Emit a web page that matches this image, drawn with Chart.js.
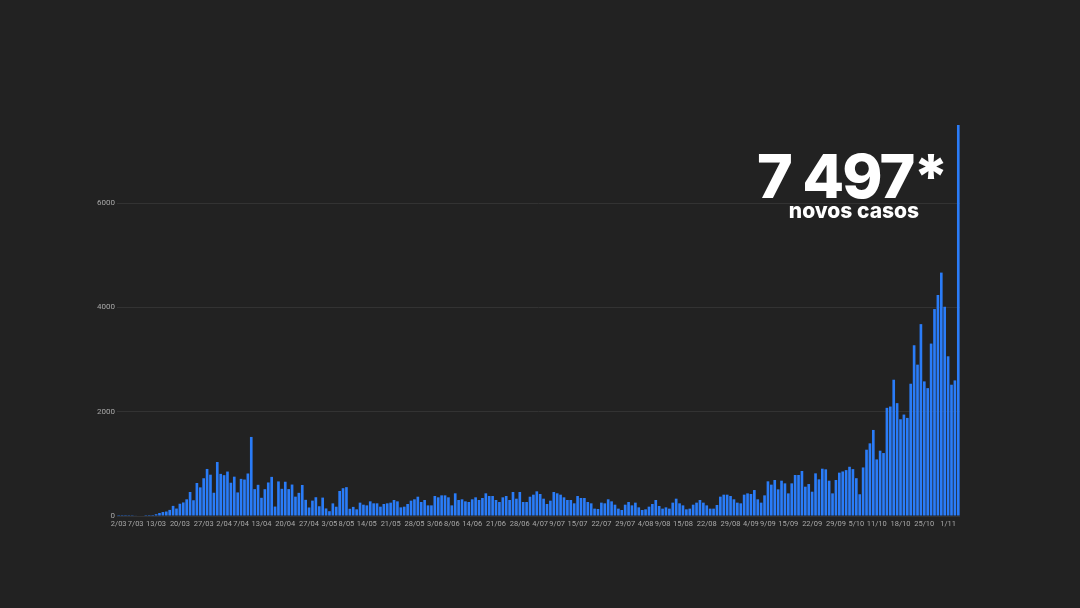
<!DOCTYPE html>
<html>
<head>
<meta charset="utf-8">
<script src="https://cdn.jsdelivr.net/npm/chart.js@4.4.0/dist/chart.umd.min.js"></script>
<style>
  html, body { margin: 0; padding: 0; background: #222222; }
  #wrap { position: relative; width: 1080px; height: 608px; overflow: hidden; }
  .big { position: absolute; left: 652px; width: 400px; text-align: center; color: #fff;
         font-family: Inter, "Open Sans", sans-serif; font-weight: 800; }
  #total { top: 146px; font-size: 61px; line-height: 61px; letter-spacing: -2px; }
  #sub { top: 200px; left: 654px; font-size: 21px; line-height: 21px; }
</style>
</head>
<body>
<div id="wrap">
  <canvas id="casos" width="1080" height="608"></canvas>
  <div class="big" id="total">7 497*</div>
  <div class="big" id="sub">novos casos</div>
</div>
<script>
// novos casos por dia, de 2/03 a 4/11
const startDate = [2020, 2, 2];

const marApr = [2, 2, 2, 3, 4, 8, 9, 9, 2, 18, 19, 34, 57, 76, 86, 117, 194, 143, 235, 260,
  320, 460, 302, 633, 549, 724, 902, 792, 446, 1035, 808, 783, 852, 638];
const abrMai = [754, 452, 712, 699, 815, 1516, 515, 598, 349, 514, 643, 750, 181, 663, 521, 657,
  516, 603, 371, 444, 595, 310, 163, 295, 360, 187, 353, 145, 92, 242, 178, 480, 533, 553, 138, 175];
const maiJun = [128, 256, 217, 204, 281, 243, 243, 179, 230, 243, 256, 307, 281, 166, 179, 230,
  294, 320, 370, 268, 307, 204, 204, 383, 358, 396, 396, 358, 204, 435, 307, 320, 281, 268, 320];
const junJul = [358, 307, 345, 435, 383, 383, 307, 268, 358, 383, 307, 460, 332, 460, 268, 268,
  370, 409, 473, 422, 332, 230, 294, 460, 435, 409, 358, 307, 307, 243, 383, 345, 345, 268, 243, 141];
const julAgo = [134, 256, 243, 320, 281, 217, 141, 115, 217, 268, 204, 256, 166, 115, 128, 179,
  230, 307, 192, 141, 166, 141, 256, 332, 243, 204, 128, 141, 217, 256, 307, 256, 204, 141, 141];
const agoSet = [211, 371, 409, 409, 383, 320, 256, 243, 409, 434, 422, 498, 320, 256, 396, 665,
  601, 690, 511, 677, 626, 434, 626, 786, 786, 863, 562, 613, 466, 818, 703, 907, 895, 677, 434, 690, 831];
const outNov = [854, 880, 944, 899, 725, 417, 931, 1271, 1393, 1650, 1085, 1252, 1207, 2074, 2099,
  2613, 2164, 1855, 1945, 1881, 2536, 3274, 2902, 3679, 2581, 2452, 3306, 3968, 4237, 4667, 4012,
  3062, 2517, 2600, 7497];

const casos = [].concat(marApr, abrMai, maiJun, junJul, julAgo, agoSet, outNov);

const shownDates = ['2/03', '7/03', '13/03', '20/03', '27/03', '2/04', '7/04', '13/04', '20/04',
  '27/04', '3/05', '8/05', '14/05', '21/05', '28/05', '3/06', '8/06', '14/06', '21/06', '28/06',
  '4/07', '9/07', '15/07', '22/07', '29/07', '4/08', '9/08', '15/08', '22/08', '29/08', '4/09',
  '9/09', '15/09', '22/09', '29/09', '5/10', '11/10', '18/10', '25/10', '1/11'];
const yTicks = [0, 2000, 4000, 6000];

const labels = casos.map((v, i) => {
  const d = new Date(Date.UTC(startDate[0], startDate[1], startDate[2] + i));
  return d.getUTCDate() + '/' + String(d.getUTCMonth() + 1).padStart(2, '0');
});

const ctx = document.getElementById('casos');
new Chart(ctx, {
  type: 'bar',
  data: {
    labels: labels,
    datasets: [{
      label: 'novos casos',
      data: casos,
      backgroundColor: '#2a7cf8',
      borderWidth: 0,
      barPercentage: 0.78,
      categoryPercentage: 1
    }]
  },
  options: {
    responsive: false,
    animation: false,
    layout: { padding: { left: 0, right: 120, top: 125, bottom: 72 } },
    plugins: { legend: { display: false }, tooltip: { enabled: false } },
    scales: {
      x: {
        grid: { display: false, drawTicks: false },
        border: { display: false },
        afterFit: (scale) => { scale.height = 20; },
        ticks: {
          autoSkip: false,
          maxRotation: 0,
          minRotation: 0,
          padding: 4,
          color: '#a8a8a8',
          font: { family: 'Roboto, sans-serif', size: 7.5 },
          callback: (val, idx) => shownDates.includes(labels[idx]) ? labels[idx] : ''
        }
      },
      y: {
        min: 0,
        max: 7497,
        border: { display: false },
        afterFit: (scale) => { scale.width = 117; },
        afterBuildTicks: (scale) => { scale.ticks = yTicks.map(v => ({ value: v })); },
        grid: { drawTicks: false, color: '#333333' },
        ticks: {
          padding: 2,
          color: '#a8a8a8',
          font: { family: 'Roboto, sans-serif', size: 8 },
          callback: (v) => String(v)
        }
      }
    }
  }
});
</script>
</body>
</html>
